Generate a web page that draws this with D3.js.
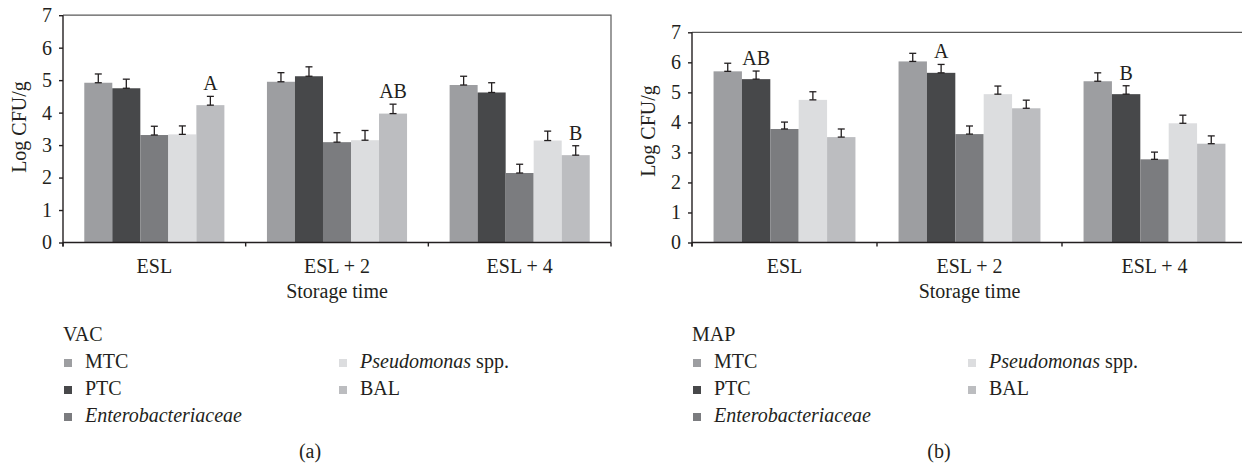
<!DOCTYPE html>
<html>
<head>
<meta charset="utf-8">
<script src="https://cdn.jsdelivr.net/npm/d3@7"></script>
<style>
  body { margin: 0; background: #fff; }
  svg text { font-family: "Liberation Serif", "Times New Roman", serif; fill: #231f20; }
</style>
</head>
<body>
<svg id="chart" width="1242" height="464"></svg>
<script>
// categories and series
var categories = ["ESL", "ESL + 2", "ESL + 4"];
var series = ["MTC", "PTC", "Entero", "Pseudo", "BAL"];
var seriesColors = ["#9d9ea1", "#47484a", "#7b7c7f", "#dcdddf", "#bcbdc0"];

// VAC (a) - mean log CFU/g and error per series, one value per category
var vacMTC = [4.92, 4.95, 4.85];
var vacPTC = [4.75, 5.12, 4.62];
var vacEntero = [3.31, 3.09, 2.14];
var vacPseudo = [3.33, 3.15, 3.14];
var vacBAL = [4.23, 3.97, 2.69];
var vacErrMTC = [0.27, 0.28, 0.27];
var vacErrPTC = [0.28, 0.29, 0.30];
var vacErrEntero = [0.27, 0.29, 0.27];
var vacErrPseudo = [0.26, 0.30, 0.29];
var vacErrBAL = [0.27, 0.29, 0.29];
var vacLetters = [
  { cat: "ESL", series: "BAL", text: "A" },
  { cat: "ESL + 2", series: "BAL", text: "AB" },
  { cat: "ESL + 4", series: "BAL", text: "B" }
];

// MAP (b)
var mapMTC = [5.70, 6.03, 5.37];
var mapPTC = [5.44, 5.65, 4.94];
var mapEntero = [3.78, 3.61, 2.77];
var mapPseudo = [4.75, 4.94, 3.97];
var mapBAL = [3.51, 4.47, 3.29];
var mapErrMTC = [0.27, 0.27, 0.28];
var mapErrPTC = [0.27, 0.28, 0.28];
var mapErrEntero = [0.23, 0.27, 0.24];
var mapErrPseudo = [0.27, 0.27, 0.27];
var mapErrBAL = [0.27, 0.27, 0.26];
var mapLetters = [
  { cat: "ESL", series: "PTC", text: "AB" },
  { cat: "ESL + 2", series: "PTC", text: "A" },
  { cat: "ESL + 4", series: "PTC", text: "B" }
];

var yTicks = [0, 1, 2, 3, 4, 5, 6, 7];

// legend entries: [text, italic?] parts
var legendParts = {
  MTC: [["MTC", false]],
  PTC: [["PTC", false]],
  Entero: [["Enterobacteriaceae", true]],
  Pseudo: [["Pseudomonas", true], [" spp.", false]],
  BAL: [["BAL", false]]
};

var svg = d3.select("#chart");
var color = d3.scaleOrdinal().domain(series).range(seriesColors);

function drawPanel(p) {
  var g = svg.append("g");

  var x0 = d3.scaleBand()
      .domain(categories)
      .range([p.left, p.right])
      .paddingInner(0.233)
      .paddingOuter(0.1165);
  var x1 = d3.scaleBand()
      .domain(series)
      .range([0, x0.bandwidth()]);
  var y = d3.scaleLinear().domain([0, 7]).range([p.bottom, p.top]);

  // table built from the arrays
  var rows = [];
  categories.forEach(function(c, i) {
    series.forEach(function(s) {
      rows.push({ cat: c, series: s, value: p.values[s][i], err: p.errors[s][i] });
    });
  });

  // frame (top + right)
  g.append("path")
    .attr("d", "M" + p.left + "," + p.top + "H" + p.right + "V" + p.bottom)
    .attr("fill", "none")
    .attr("stroke", "#5a5a5a")
    .attr("stroke-width", 1.2);

  // bars
  g.selectAll("rect.bar")
    .data(rows)
    .enter().append("rect")
      .attr("class", "bar")
      .attr("x", function(d) { return x0(d.cat) + x1(d.series); })
      .attr("width", x1.bandwidth())
      .attr("y", function(d) { return y(d.value); })
      .attr("height", function(d) { return y(0) - y(d.value); })
      .attr("fill", function(d) { return color(d.series); });

  // error bars (upper half only, like the original)
  var capW = 3.5;
  var eb = g.selectAll("g.err")
    .data(rows)
    .enter().append("g")
      .attr("class", "err")
      .attr("stroke", "#231f20")
      .attr("stroke-width", 1.3);
  eb.append("line")
    .attr("x1", function(d) { return x0(d.cat) + x1(d.series) + x1.bandwidth() / 2; })
    .attr("x2", function(d) { return x0(d.cat) + x1(d.series) + x1.bandwidth() / 2; })
    .attr("y1", function(d) { return y(d.value); })
    .attr("y2", function(d) { return y(d.value + d.err); });
  [0, 1].forEach(function(k) {
    eb.append("line")
      .attr("x1", function(d) { return x0(d.cat) + x1(d.series) + x1.bandwidth() / 2 - capW; })
      .attr("x2", function(d) { return x0(d.cat) + x1(d.series) + x1.bandwidth() / 2 + capW; })
      .attr("y1", function(d) { return y(d.value + (k ? d.err : 0)); })
      .attr("y2", function(d) { return y(d.value + (k ? d.err : 0)); });
  });

  // significance letters
  g.selectAll("text.letter")
    .data(p.letters)
    .enter().append("text")
      .attr("class", "letter")
      .attr("x", function(d) { return x0(d.cat) + x1(d.series) + x1.bandwidth() / 2; })
      .attr("y", function(d) {
        var i = categories.indexOf(d.cat);
        return y(p.values[d.series][i] + p.errors[d.series][i]) - 6;
      })
      .attr("text-anchor", "middle")
      .style("font-size", "20px")
      .text(function(d) { return d.text; });

  // y axis
  var yAxis = g.append("g")
    .attr("transform", "translate(" + p.left + ",0)")
    .call(d3.axisLeft(y).tickValues(yTicks).tickSize(4).tickPadding(7).tickFormat(d3.format("d")));
  yAxis.select(".domain").attr("d", "M0," + (p.bottom + 4) + "V" + p.top);
  yAxis.selectAll("path, line").attr("stroke", "#231f20").attr("stroke-width", 1.4);
  yAxis.selectAll("text").style("font-size", "20px").attr("fill", "#231f20");

  // x axis: ticks at category boundaries, labels centred
  var bounds = [p.left].concat(categories.map(function(c) { return x0(c) + x0.bandwidth() + x0.step() * 0.1165; }));
  g.append("line")
    .attr("x1", p.left).attr("x2", p.right)
    .attr("y1", p.bottom).attr("y2", p.bottom)
    .attr("stroke", "#231f20").attr("stroke-width", 1.4);
  g.selectAll("line.xtick")
    .data(bounds)
    .enter().append("line")
      .attr("class", "xtick")
      .attr("x1", function(d) { return d; }).attr("x2", function(d) { return d; })
      .attr("y1", p.bottom).attr("y2", p.bottom + 4)
      .attr("stroke", "#231f20").attr("stroke-width", 1.4);
  g.selectAll("text.xlab")
    .data(categories)
    .enter().append("text")
      .attr("class", "xlab")
      .attr("x", function(d) { return x0(d) + x0.bandwidth() / 2; })
      .attr("y", p.bottom + 30)
      .attr("text-anchor", "middle")
      .style("font-size", "20px")
      .text(function(d) { return d; });

  // axis titles
  g.append("text")
    .attr("x", (p.left + p.right) / 2)
    .attr("y", 298)
    .attr("text-anchor", "middle")
    .style("font-size", "20px")
    .text("Storage time");
  g.append("text")
    .attr("transform", "translate(" + (p.left - 37) + "," + p.ylabY + ") rotate(-90)")
    .attr("text-anchor", "middle")
    .style("font-size", "20px")
    .text("Log CFU/g");

  // legend
  var lg = g.append("g").attr("transform", "translate(" + p.left + ",0)");
  lg.append("text")
    .attr("x", 0).attr("y", 341)
    .style("font-size", "20px")
    .text(p.title);
  var legendPos = {
    MTC: [0, 0], PTC: [0, 1], Entero: [0, 2], Pseudo: [1, 0], BAL: [1, 1]
  };
  var item = lg.selectAll("g.item")
    .data(series)
    .enter().append("g")
      .attr("class", "item")
      .attr("transform", function(s) {
        return "translate(" + (legendPos[s][0] * 275) + "," + (368 + legendPos[s][1] * 27) + ")";
      });
  item.append("rect")
    .attr("x", 1).attr("y", -9)
    .attr("width", 8).attr("height", 8)
    .attr("fill", function(s) { return color(s); });
  item.append("text")
    .attr("x", 22)
    .style("font-size", "20px")
    .each(function(s) {
      var t = d3.select(this);
      legendParts[s].forEach(function(part) {
        t.append("tspan")
          .style("font-style", part[1] ? "italic" : "normal")
          .text(part[0]);
      });
    });

  // caption
  g.append("text")
    .attr("x", p.left + 247)
    .attr("y", 458)
    .attr("text-anchor", "middle")
    .style("font-size", "20px")
    .text(p.caption);
}

drawPanel({
  left: 63, right: 611, top: 15.2, bottom: 242.5, ylabY: 127,
  title: "VAC", caption: "(a)",
  values: { MTC: vacMTC, PTC: vacPTC, Entero: vacEntero, Pseudo: vacPseudo, BAL: vacBAL },
  errors: { MTC: vacErrMTC, PTC: vacErrPTC, Entero: vacErrEntero, Pseudo: vacErrPseudo, BAL: vacErrBAL },
  letters: vacLetters
});

drawPanel({
  left: 692, right: 1247, top: 32.3, bottom: 242.5, ylabY: 131,
  title: "MAP", caption: "(b)",
  values: { MTC: mapMTC, PTC: mapPTC, Entero: mapEntero, Pseudo: mapPseudo, BAL: mapBAL },
  errors: { MTC: mapErrMTC, PTC: mapErrPTC, Entero: mapErrEntero, Pseudo: mapErrPseudo, BAL: mapErrBAL },
  letters: mapLetters
});
</script>
</body>
</html>
